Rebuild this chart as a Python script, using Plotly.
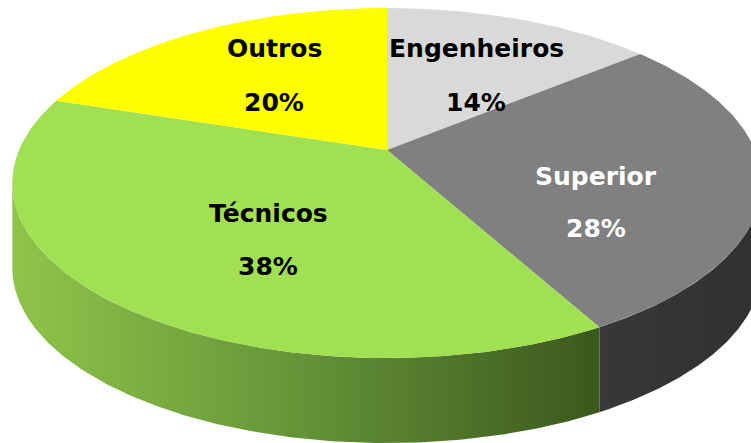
import math
import plotly.graph_objects as go

# ---- data ----
categories = ["Engenheiros", "Superior", "Técnicos", "Outros"]
values = [14, 28, 38, 20]
pct_labels = ["14%", "28%", "38%", "20%"]

# ---- style ----
top_colors = ["#d9d9d9", "#808080", "#a0e052", "#ffff00"]
side_fill = [
    None,
    dict(type="horizontal", colorscale=[[0, "#383838"], [1, "#303030"]]),
    dict(type="horizontal", colorscale=[[0, "#8fc44a"], [0.45, "#68983a"], [1, "#3b581d"]]),
    None,
]
text_colors = ["#000000", "#ffffff", "#000000", "#000000"]
# label anchor positions in pixels: (x, y_name, y_pct)
label_pos = [(476, 48, 102), (596, 176, 228), (268, 213, 266), (274, 48, 102)]

W, H = 751, 443
CX, CY = 387.0, 150.0      # projected pie centre
A, B = 368.0, 168.8        # horizontal / depth scale
K = 0.1886                 # perspective factor
DEPTH = 85.0               # thickness of the pie


def proj(theta_deg, r=1.0, dz=0.0):
    t = math.radians(theta_deg)
    u, v = r * math.cos(t), r * math.sin(t)
    den = 1 + K * v
    return CX + A * u / den, CY - B * v / den + dz


def arc(a0, a1, n=160, dz=0.0):
    pts = [proj(a0 + (a1 - a0) * i / n, 1.0, dz) for i in range(n + 1)]
    return [p[0] for p in pts], [p[1] for p in pts]


total = float(sum(values))
angles = []
start = 90.0
for v in values:
    end = start - 360.0 * v / total
    angles.append((start, end))
    start = end

alpha = math.degrees(math.asin(K))
vis_lo, vis_hi = -(180 - alpha), -alpha

fig = go.Figure()

# sides (front only)
for i, (a0, a1) in enumerate(angles):
    hi, lo = a0, a1
    s_hi, s_lo = min(hi, vis_hi), max(lo, vis_lo)
    if s_hi <= s_lo:
        continue
    tx, ty = arc(s_lo, s_hi)
    bx, by = arc(s_hi, s_lo, dz=DEPTH)
    xs, ys = tx + bx + [tx[0]], ty + by + [ty[0]]
    kw = dict(fillcolor=top_colors[i])
    if side_fill[i] is not None:
        kw = dict(fillgradient=side_fill[i])
    fig.add_trace(go.Scatter(x=xs, y=ys, mode="lines", fill="toself",
                             line=dict(width=0), hoverinfo="skip",
                             showlegend=False, **kw))

# top faces
for i, (a0, a1) in enumerate(angles):
    ax, ay = arc(a0, a1)
    xs = [CX] + ax + [CX]
    ys = [CY] + ay + [CY]
    fig.add_trace(go.Scatter(x=xs, y=ys, mode="lines", fill="toself",
                             fillcolor=top_colors[i], line=dict(width=0),
                             hoverinfo="skip", showlegend=False,
                             name=categories[i]))

# labels
for i, cat in enumerate(categories):
    x, yn, yp = label_pos[i]
    for txt, yy in ((cat, yn), (pct_labels[i], yp)):
        fig.add_annotation(x=x, y=yy, text="<b>%s</b>" % txt, showarrow=False,
                           xanchor="center", yanchor="middle",
                           font=dict(family="DejaVu Sans", size=25,
                                     color=text_colors[i]))

fig.update_layout(
    width=W, height=H,
    margin=dict(l=0, r=0, t=0, b=0),
    paper_bgcolor="white", plot_bgcolor="white",
    xaxis=dict(range=[0, W], visible=False, fixedrange=True),
    yaxis=dict(range=[H, 0], visible=False, fixedrange=True),
    showlegend=False,
)

fig.write_html("out.html",
               config={"displayModeBar": False},
               post_script="document.body.style.margin='0';document.body.style.overflow='hidden';")
